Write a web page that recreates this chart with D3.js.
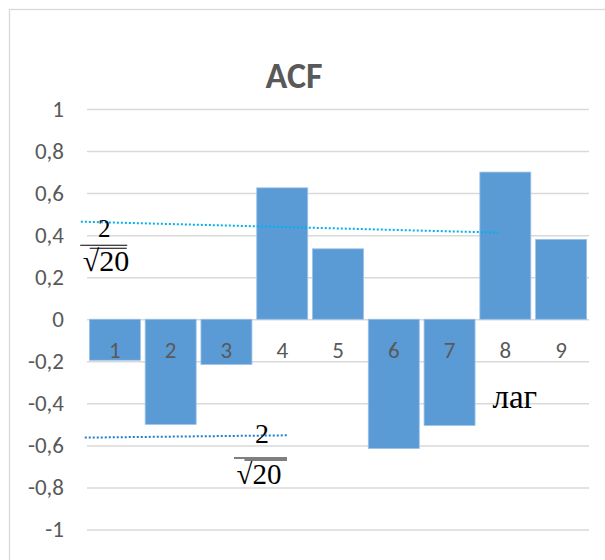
<!DOCTYPE html>
<html>
<head>
<meta charset="utf-8">
<script src="https://cdn.jsdelivr.net/npm/d3@7"></script>
<style>
  html, body { margin: 0; padding: 0; background: #fff; }
  svg { display: block; }
</style>
</head>
<body>
<svg id="chart" width="605" height="560"></svg>
<script>
// Autocorrelation values by lag
const lags = ["1", "2", "3", "4", "5", "6", "7", "8", "9"];
const acf = [-0.195, -0.50, -0.215, 0.625, 0.335, -0.615, -0.505, 0.70, 0.38];

// Y axis ticks and their labels (comma decimal separator)
const yTicks = [1, 0.8, 0.6, 0.4, 0.2, 0, -0.2, -0.4, -0.6, -0.8, -1];
const yTickLabels = ["1", "0,8", "0,6", "0,4", "0,2", "0", "-0,2", "-0,4", "-0,6", "-0,8", "-1"];

// Hand-drawn significance bounds (lag, value) — endpoints of the dotted lines
const upperBoundLine = [[0.39, 0.464], [7.87, 0.412]];
const lowerBoundLine = [[0.46, -0.563], [4.10, -0.552]];

// Anchor points (lag, value) of the 2/√20 labels and of the axis caption
const upperLabelAt = [0.80, 0.352];
const lowerLabelAt = [3.61, -0.660];
const lagCaptionAt = [7.77, -0.42];

const svg = d3.select("#chart");
const plotLeft = 87, plotRight = 589, plotTop = 109, plotBottom = 529.5;
const uiFont = "Carlito, Calibri, Lato, sans-serif";
const mathFont = "'Liberation Serif', 'Times New Roman', serif";

const x = d3.scaleBand().domain(lags).range([plotLeft, plotRight])
  .paddingInner(0.086).paddingOuter(0.043);
const xLag = d3.scaleLinear().domain([0.5, 9.5]).range([plotLeft, plotRight]);
const y = d3.scaleLinear().domain([-1, 1]).range([plotBottom, plotTop]);

// Chart frame
svg.append("rect")
  .attr("x", 9.5).attr("y", 9.5).attr("width", 620).attr("height", 580)
  .attr("fill", "#fff").attr("stroke", "#d9d9d9").attr("stroke-width", 1.3);

// Title
svg.append("text")
  .attr("x", 294).attr("y", 88)
  .attr("text-anchor", "middle")
  .attr("font-family", uiFont)
  .attr("font-weight", "bold").attr("font-size", 36)
  .attr("fill", "#595959")
  .text("ACF");

// Gridlines and y labels
const yAxis = d3.axisLeft(y).tickValues(yTicks)
  .tickSize(-(plotRight - plotLeft)).tickPadding(23)
  .tickFormat((d, i) => yTickLabels[i]);
const ga = svg.append("g").attr("transform", `translate(${plotLeft},0)`).call(yAxis);
ga.select(".domain").remove();
ga.selectAll(".tick line").attr("stroke", "#d9d9d9").attr("stroke-width", 1.5);
ga.selectAll(".tick text")
  .attr("font-family", uiFont)
  .attr("font-size", 23).attr("fill", "#595959");

// Bars
svg.append("g").selectAll("rect").data(acf).join("rect")
  .attr("x", (d, i) => x(lags[i]))
  .attr("width", x.bandwidth())
  .attr("y", d => y(Math.max(0, d)))
  .attr("height", d => Math.abs(y(d) - y(0)))
  .attr("fill", "#5b9bd5")
  .attr("stroke", "#9cc2e8").attr("stroke-width", 0.8);

// Category labels, placed just below the zero line
const xAxis = d3.axisBottom(x).tickSize(0).tickPadding(22);
const gx = svg.append("g").attr("transform", `translate(0,${y(0)})`).call(xAxis);
gx.select(".domain").remove();
gx.selectAll(".tick text")
  .attr("font-family", uiFont)
  .attr("font-size", 23).attr("fill", "#595959");

// Dotted bound lines
const line = d3.line().x(d => xLag(d[0])).y(d => y(d[1]));
svg.append("path").attr("d", line(upperBoundLine))
  .attr("fill", "none").attr("stroke", "#00b0f0")
  .attr("stroke-width", 2).attr("stroke-dasharray", "2,2");
svg.append("path").attr("d", line(lowerBoundLine))
  .attr("fill", "none").attr("stroke", "#1f7ccc")
  .attr("stroke-width", 2).attr("stroke-dasharray", "2,2");

// 2/√20 fraction label
function fraction(at, o) {
  const g = svg.append("g")
    .attr("transform", `translate(${xLag(at[0])},${y(at[1])})`)
    .attr("font-family", mathFont)
    .attr("fill", "#000");
  g.append("text").attr("x", o.numDx).attr("y", o.numDy)
    .attr("text-anchor", "middle").attr("font-size", o.numSize).text("2");
  g.append("line").attr("x1", -o.barHalf).attr("x2", o.barHalf)
    .attr("y1", 0).attr("y2", 0).attr("stroke", "#000").attr("stroke-width", 1.2);
  const den = g.append("text").attr("x", o.denDx).attr("y", o.denDy)
    .attr("font-size", o.denSize);
  den.append("tspan").text("√");
  den.append("tspan").text("20");
  g.append("line").attr("x1", o.ovX1).attr("x2", o.ovX2)
    .attr("y1", o.ovY).attr("y2", o.ovY).attr("stroke", "#000").attr("stroke-width", 1.2);
}
fraction(upperLabelAt, {numDx: 0.5, numDy: -8, numSize: 25, barHalf: 23.5,
  denDx: -21, denDy: 26, denSize: 30, ovX1: -14, ovX2: 23, ovY: 3});
fraction(lowerLabelAt, {numDx: 1.5, numDy: -15, numSize: 28, barHalf: 26.5,
  denDx: -24, denDy: 26, denSize: 29, ovX1: -16, ovX2: 26.5, ovY: 2});

// Axis caption
svg.append("text")
  .attr("x", xLag(lagCaptionAt[0])).attr("y", y(lagCaptionAt[1]))
  .attr("font-family", mathFont)
  .attr("font-size", 33).attr("fill", "#000")
  .text("лаг");
</script>
</body>
</html>
